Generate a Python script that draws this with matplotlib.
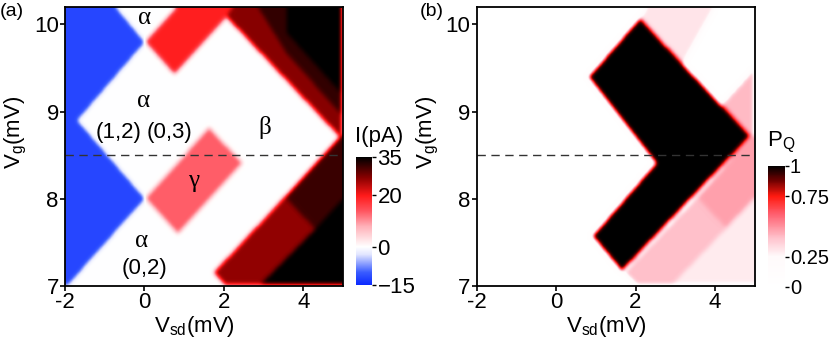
import numpy as np
import matplotlib
matplotlib.use("Agg")
import matplotlib.pyplot as plt
from matplotlib.path import Path
from matplotlib.colors import LinearSegmentedColormap, Normalize

# ---- data: regions as (Vsd, Vg) vertices ----
vsd_lim = (-2.0, 5.0)
vg_lim = (7.0, 10.2)
cut_vg = 8.5

# panel (a): current in pA, painted in order over a 0 pA background
blue_left = [(-2.0, 7.0), (-1.95, 7.0), (0.0, 8.0), (-1.7, 8.9), (0.0, 9.8), (-0.73, 10.2), (-2.0, 10.2)]
red_top = [(0.02, 9.8), (0.8, 10.2), (2.2, 10.2), (2.07, 10.09), (0.76, 9.43)]
gamma_box = [(0.02, 8.0), (1.63, 8.82), (2.47, 8.41), (0.84, 7.6)]
black_upper = [(2.2, 10.2), (5.0, 10.2), (5.0, 8.68), (4.93, 8.71)]
band_upper_in = [(2.07, 10.09), (2.2, 10.2), (2.87, 10.2), (3.58, 9.68), (5.0, 8.95), (5.0, 8.68), (4.93, 8.71)]
band_upper_out = [(2.87, 10.2), (3.6, 10.2), (3.6, 9.9), (5.0, 9.2), (5.0, 8.95), (3.58, 9.68)]
black_lower = [(2.9, 7.0), (5.0, 7.0), (5.0, 8.0)]
band_lower = [(1.75, 7.15), (2.05, 7.0), (2.9, 7.0), (4.31, 7.65), (3.54, 8.02)]
band_lower_up = [(3.54, 8.02), (4.31, 7.65), (5.0, 8.0), (5.0, 8.72), (4.93, 8.71)]

current_regions = [
    (blue_left, -12.0),
    (red_top, 19.5),
    (gamma_box, 13.5),
    (black_upper, 35.0),
    (band_upper_in, 27.0),
    (band_upper_out, 32.0),
    (black_lower, 35.0),
    (band_lower, 26.5),
    (band_lower_up, 31.5),
]

# panel (b): P_Q, painted in order over a 0 background
pq_top = [(2.1, 10.08), (2.25, 10.2), (4.0, 10.2), (3.2, 9.55)]
pq_right = [(4.16, 9.08), (5.0, 9.5), (5.0, 8.68), (4.9, 8.72)]
pq_band_low = [(1.7, 7.15), (2.05, 7.0), (2.9, 7.0), (4.31, 7.65), (3.54, 8.02)]
pq_band_up = [(3.54, 8.02), (4.31, 7.65), (5.0, 8.0), (5.0, 8.72), (4.9, 8.72)]
pq_corner = [(2.9, 7.0), (5.0, 7.0), (5.0, 8.0)]
chevron = [(2.1, 10.08), (4.9, 8.72), (1.65, 7.16), (0.9, 7.57), (2.5, 8.41), (0.8, 9.4)]

pq_regions = [
    (pq_top, 0.31),
    (pq_right, 0.42),
    (pq_band_low, 0.41),
    (pq_band_up, 0.47),
    (pq_corner, 0.29),
    (chevron, 1.0),
]

labels_a = [
    (0.0, 10.07, "α", "serif"), (-0.02, 9.12, "α", "serif"),
    (-0.66, 8.76, "(1,2)", "sans"), (0.64, 8.76, "(0,3)", "sans"),
    (3.03, 8.82, "β", "serif"), (1.23, 8.2, "γ", "serif"),
    (-0.07, 7.52, "α", "serif"), (-0.01, 7.2, "(0,2)", "sans"),
]

cbar_ticks_a = [-15, 0, 20, 35]
cbar_ticks_b = [0, 0.25, 0.75, 1]
cbar_ticklabels_b = ["0", "0.25", "0.75", "1"]

# ---- style ----
plt.rcParams["font.family"] = ["Liberation Sans", "DejaVu Sans"]
plt.rcParams["mathtext.fontset"] = "custom"
plt.rcParams["mathtext.rm"] = "Liberation Sans"
plt.rcParams["mathtext.it"] = "Liberation Sans:italic"
plt.rcParams["axes.linewidth"] = 1.3
FS = 16

cmap_a = LinearSegmentedColormap.from_list("cur", [
    (0.00, "#0a28ff"), (0.10, "#3a5cff"), (0.24, "#e2e6ff"), (0.30, "#ffffff"),
    (0.46, "#ffb0b8"), (0.58, "#ff5560"), (0.70, "#ff1a1a"), (0.84, "#8a0000"),
    (1.00, "#000000")])
cmap_b = LinearSegmentedColormap.from_list("pq", [
    (0.00, "#ffffff"), (0.25, "#fffafb"), (0.40, "#ffc4ce"), (0.60, "#ff6070"),
    (0.75, "#ff1a10"), (0.88, "#700000"), (1.00, "#000000")])

# grid for rasterising the regions
xs = np.linspace(vsd_lim[0], vsd_lim[1], 351)
ys = np.linspace(vg_lim[0], vg_lim[1], 321)
X, Y = np.meshgrid(xs, ys)


def paint(regions, background=0.0):
    z = np.full(X.shape, background)
    pts = np.column_stack([X.ravel(), Y.ravel()])
    for verts, val in regions:
        inside = Path(verts).contains_points(pts).reshape(X.shape)
        z[inside] = val
    return z


def soften(z, s=2.6):
    # the measured maps have soft edges
    r = int(3 * s) + 1
    k = np.exp(-0.5 * (np.arange(-r, r + 1) / s) ** 2)
    k /= k.sum()
    zp = np.pad(z, r, mode="edge")
    zp = np.apply_along_axis(lambda v: np.convolve(v, k, mode="valid"), 1, zp)
    zp = np.apply_along_axis(lambda v: np.convolve(v, k, mode="valid"), 0, zp)
    return zp


z_a = soften(paint(current_regions))
z_b = soften(paint(pq_regions))

W, H = 831, 346
fig = plt.figure(figsize=(W / 100, H / 100), dpi=100)

ax_a = fig.add_axes([65 / W, 60 / H, 278 / W, 279 / H])
cax_a = fig.add_axes([356 / W, 61 / H, 16 / W, 128 / H])
ax_b = fig.add_axes([476.7 / W, 60 / H, 278 / W, 279 / H])
cax_b = fig.add_axes([768 / W, 59 / H, 17 / W, 121 / H])

ext = [vsd_lim[0], vsd_lim[1], vg_lim[0], vg_lim[1]]
im_a = ax_a.imshow(z_a, origin="lower", extent=ext, aspect="auto", cmap=cmap_a,
                   norm=Normalize(-15, 35), interpolation="bilinear")
im_b = ax_b.imshow(z_b, origin="lower", extent=ext, aspect="auto", cmap=cmap_b,
                   norm=Normalize(0, 1), interpolation="bilinear")

for ax in (ax_a, ax_b):
    ax.axhline(cut_vg, color="#333333", lw=1.0, ls=(0, (6, 4)))
    ax.set_xlim(vsd_lim)
    ax.set_ylim(vg_lim)
    ax.set_xticks([-2, 0, 2, 4])
    ax.set_xticklabels(["-2", "0", "2", "4"])
    ax.set_yticks([7, 8, 9, 10])
    ax.tick_params(direction="out", length=3.5, width=1.2, labelsize=FS, pad=1)
    ax.set_xlabel(r"V$_{\rm sd}$(mV)", fontsize=FS)
    ax.set_ylabel(r"V$_{\rm g}$(mV)", fontsize=FS)
    ax.xaxis.set_label_coords(0.465, -0.1)
    ax.yaxis.set_label_coords(-0.13, 0.55)

for x, y, s, fam in labels_a:
    family = ["Liberation Serif", "DejaVu Serif"] if fam == "serif" else ["Liberation Sans", "DejaVu Sans"]
    ax_a.text(x, y, s, ha="center", va="center", fontsize=18 if fam == "serif" else FS, family=family)

cb_a = fig.colorbar(im_a, cax=cax_a, ticks=cbar_ticks_a)
cb_b = fig.colorbar(im_b, cax=cax_b, ticks=cbar_ticks_b)
cb_b.ax.set_yticklabels(cbar_ticklabels_b)
cb_a.outline.set_visible(False)
cb_b.outline.set_visible(False)
cb_a.ax.tick_params(length=3, width=1, pad=1, labelsize=FS)
cb_b.ax.tick_params(length=3, width=1, pad=0.5, labelsize=14.5)

fig.text(355 / W, 1 - 137 / H, "I(pA)", ha="left", va="center", fontsize=FS)
fig.text(767 / W, 1 - 142 / H, r"P$_{\rm Q}$", ha="left", va="center", fontsize=FS)
fig.text(0.0, 1 - 3 / H, "(a)", ha="left", va="top", fontsize=14)
fig.text(420 / W, 1 - 3 / H, "(b)", ha="left", va="top", fontsize=14)

fig.savefig("out.png", dpi=100)
